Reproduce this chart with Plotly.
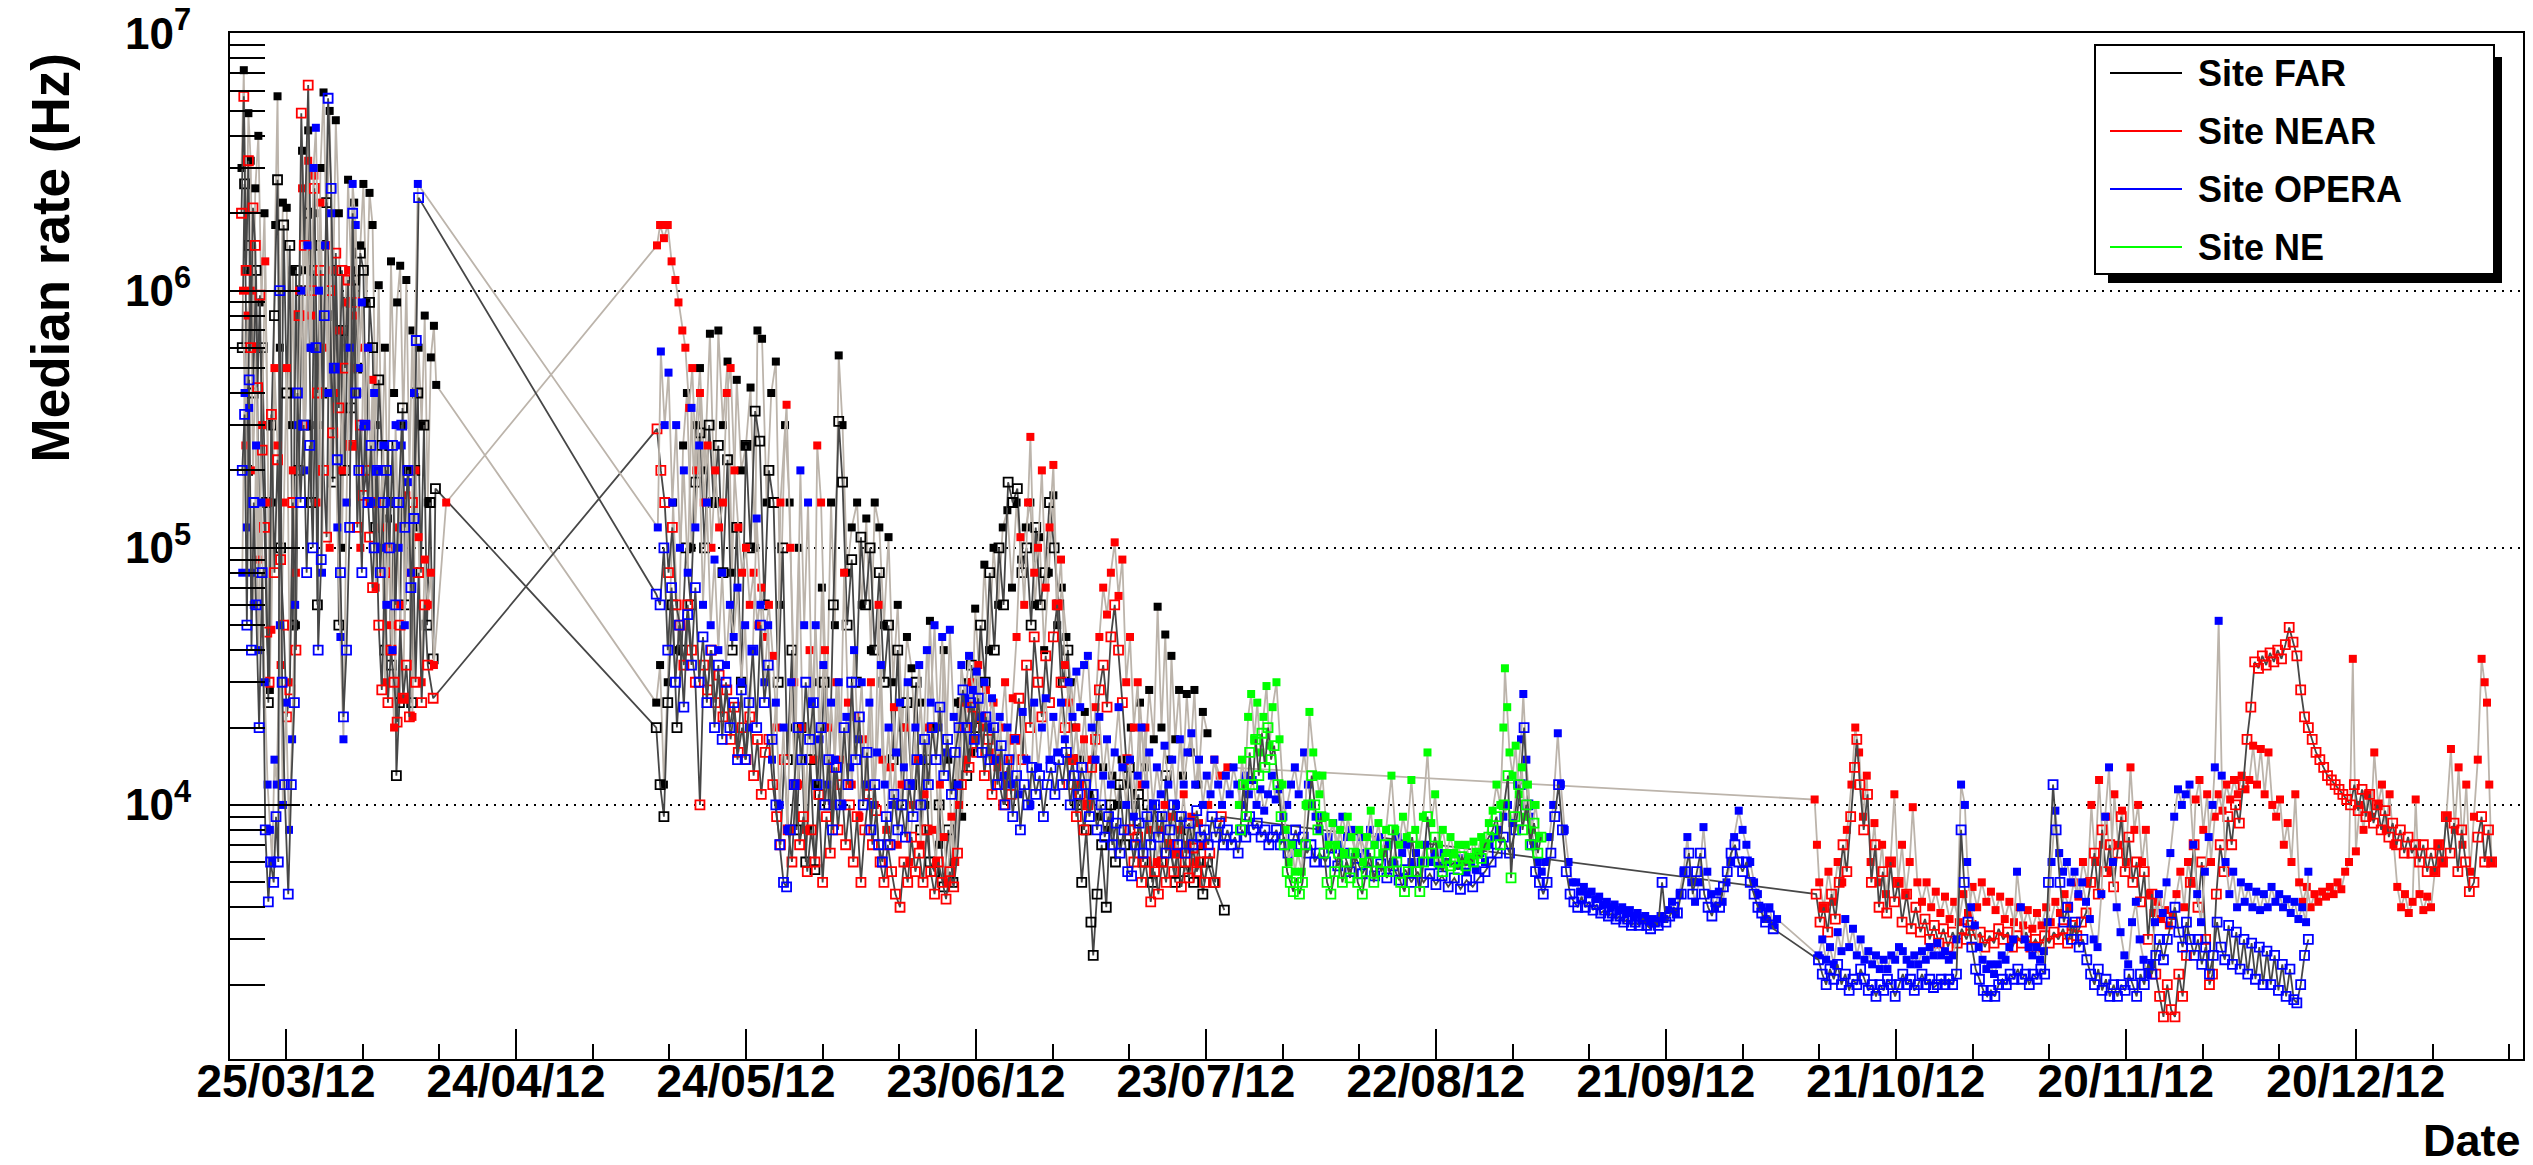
import pandas as pd
import plotly.graph_objects as go

# ---------------------------------------------------------------------------
# Data: (days after 25/03/12, median rate in Hz)
# ---------------------------------------------------------------------------
ORIGIN = "2012-03-25"

FAR_FILLED = [
    (-5.8, 3.0e6), (-5.5, 7.2e6), (-5.2, 1.2e6), (-4.9, 4.9e6), (-4.6, 3.2e6), (-4.3, 6.0e5), (-4.0, 2.5e6),
    (-3.6, 4.0e6), (-3.2, 9.0e5), (-2.8, 2.0e6), (-2.4, 3.0e5), (-2.1, 2.8e4), (-1.8, 1.5e5), (-1.4, 1.8e6),
    (-1.1, 5.7e6), (-0.8, 6.0e5), (-0.4, 2.2e6), (0.1, 2.1e6), (0.5, 3.0e5), (0.9, 1.2e6), (1.3, 5.0e4),
    (1.7, 8.0e5), (2.1, 3.5e6), (2.5, 1.2e6), (2.9, 4.2e6), (3.3, 6.0e5), (3.7, 2.0e6), (4.1, 3.0e5),
    (4.5, 3.0e6), (4.9, 5.9e6), (5.3, 1.5e6), (5.7, 5.0e6), (6.1, 8.0e5), (6.5, 4.6e6), (6.9, 2.0e6),
    (7.3, 1.0e5), (7.7, 6.0e5), (8.1, 2.7e6), (8.5, 1.2e6), (8.9, 2.2e6), (9.3, 4.0e5), (9.7, 1.5e6),
    (10.1, 2.6e6), (10.5, 9.0e5), (10.9, 2.4e6), (11.3, 1.8e6), (11.7, 3.0e5), (12.1, 1.05e6), (12.5, 2.0e5),
    (12.9, 6.0e5), (13.3, 1.3e5), (13.7, 1.3e6), (14.1, 4.0e5), (14.5, 9.0e5), (14.9, 1.25e6), (15.3, 3.0e5),
    (15.7, 1.1e6), (16.1, 2.0e5), (16.5, 7.0e5), (16.9, 1.2e5), (17.3, 6.0e5), (17.7, 3.0e5), (18.1, 8.0e5),
    (18.5, 1.5e5), (18.9, 5.5e5), (19.3, 7.3e5), (19.6, 4.3e5),
    (48.3, 2.5e4), (48.8, 3.5e4), (49.3, 1.2e4), (49.8, 3.0e4), (50.5, 1.5e5), (51.2, 4.0e4), (51.8, 2.5e5),
    (52.3, 4.0e5), (52.9, 1.0e5), (53.5, 3.0e5), (54.0, 5.0e5), (54.6, 2.0e5), (55.3, 6.8e5), (55.9, 1.5e5),
    (56.4, 7.0e5), (57.0, 3.0e5), (57.6, 5.3e5), (58.2, 8.0e4), (58.8, 4.5e5), (59.4, 2.0e5), (60.0, 2.5e5),
    (60.6, 4.2e5), (61.2, 1.0e5), (61.5, 7.0e5), (62.1, 6.5e5), (62.7, 1.5e5), (63.3, 4.0e5), (63.9, 5.3e5),
    (64.5, 6.0e4), (65.1, 3.0e5), (65.7, 1.5e5), (66.3, 2.0e4), (66.9, 1.0e5), (67.5, 1.5e4), (68.1, 8.0e3),
    (68.7, 3.0e4), (69.3, 1.2e4), (69.9, 7.0e4), (70.5, 2.0e4), (71.1, 1.5e5), (71.6, 5.0e4), (72.1, 5.6e5),
    (72.6, 3.0e5), (73.2, 8.0e4), (73.8, 1.2e5), (74.5, 1.5e5), (75.1, 6.0e4), (75.7, 1.3e5), (76.3, 4.0e4),
    (76.8, 1.5e5), (77.4, 1.2e5), (78.0, 5.0e4), (78.6, 1.1e5), (79.2, 3.0e4), (79.8, 6.0e4), (80.4, 2.0e4),
    (81.0, 4.5e4), (81.6, 3.4e4), (82.2, 1.5e4), (82.8, 2.5e4), (83.4, 1.0e4), (84.0, 5.2e4), (84.6, 2.0e4),
    (85.2, 7.0e3), (85.8, 4.0e4), (86.4, 1.5e4), (87.0, 6.0e3), (87.6, 2.5e4), (88.2, 9.0e3), (88.8, 3.0e4),
    (89.4, 1.6e4), (89.9, 5.8e4), (90.5, 3.0e4), (91.1, 8.6e4), (91.7, 4.0e4), (92.3, 1.0e5), (92.9, 6.0e4),
    (93.5, 1.2e5), (94.1, 1.4e5), (94.7, 7.0e4), (95.3, 1.5e5), (95.9, 9.0e4), (96.5, 1.2e5), (97.1, 1.5e5),
    (97.7, 6.0e4), (98.3, 1.1e5), (98.9, 4.0e4), (99.5, 8.0e4), (100.1, 1.6e5), (100.6, 5.0e4), (101.2, 7.0e4),
    (101.8, 4.5e4), (102.4, 3.0e4), (103.0, 2.0e4), (103.6, 1.5e4), (104.2, 2.3e4), (104.8, 1.1e4), (105.4, 1.5e4),
    (106.0, 9.0e3), (106.6, 1.4e4), (107.2, 8.0e3), (107.8, 1.3e4), (108.4, 1.0e4), (109.0, 1.5e4), (109.6, 1.2e4),
    (110.2, 2.0e4), (110.8, 1.0e4), (111.4, 2.5e4), (112.0, 1.4e4), (112.6, 2.8e4), (113.2, 1.8e4), (113.7, 5.9e4),
    (114.2, 2.0e4), (114.7, 4.6e4), (115.2, 1.5e4), (115.5, 3.8e4), (116.0, 1.8e4), (116.5, 2.8e4), (117.0, 1.3e4),
    (117.5, 2.7e4), (118.0, 1.6e4), (118.5, 2.8e4), (119.0, 1.2e4), (119.6, 2.3e4), (120.2, 1.9e4),
]

FAR_OPEN = [
    (-5.7, 6.0e5), (-5.4, 2.6e6), (-5.0, 2.0e5), (-4.7, 1.5e6), (-4.3, 4.0e5), (-3.9, 1.2e6), (-3.5, 8.0e4),
    (-3.1, 6.0e5), (-2.7, 1.5e5), (-2.3, 2.5e4), (-1.9, 3.0e5), (-1.5, 8.0e5), (-1.1, 2.7e6), (-0.7, 1.0e5),
    (-0.3, 1.8e6), (0.1, 4.0e5), (0.5, 1.5e6), (0.9, 5.0e4), (1.3, 1.2e6), (1.7, 2.0e5), (2.1, 1.0e6),
    (2.5, 3.0e5), (2.9, 2.0e6), (3.3, 1.5e5), (3.7, 1.2e6), (4.1, 6.0e4), (4.5, 1.5e6), (4.9, 4.0e5),
    (5.3, 2.2e6), (5.7, 8.0e5), (6.1, 1.8e5), (6.5, 1.2e6), (6.9, 5.0e4), (7.3, 7.0e5), (7.7, 2.0e5),
    (8.1, 9.0e5), (8.5, 3.5e5), (8.9, 1.1e6), (9.3, 5.0e5), (9.7, 1.4e6), (10.1, 1.2e6), (10.5, 2.0e5),
    (10.9, 9.0e5), (11.3, 6.0e5), (11.7, 1.2e5), (12.1, 4.5e5), (12.5, 2.5e5), (12.9, 4.0e4), (13.3, 2.5e5),
    (13.7, 3.5e4), (14.1, 1.5e5), (14.4, 1.3e4), (14.8, 2.5e4), (15.2, 3.5e5), (15.6, 6.0e4), (16.0, 2.0e5),
    (16.4, 2.5e4), (16.8, 2.0e5), (17.2, 4.0e5), (17.6, 8.0e4), (18.0, 3.0e5), (18.4, 5.0e4), (18.8, 1.5e5),
    (19.2, 3.7e4), (19.5, 1.7e5),
    (48.3, 2.0e4), (48.8, 1.2e4), (49.3, 9.0e3), (49.8, 2.5e4), (50.4, 6.0e4), (51.0, 2.0e4), (51.6, 4.0e4),
    (52.2, 1.0e5), (52.8, 6.0e4), (53.4, 1.8e5), (54.0, 2.8e5), (54.6, 1.0e5), (55.2, 3.0e5), (55.8, 1.5e5),
    (56.4, 2.5e5), (57.0, 8.0e4), (57.6, 2.2e5), (58.2, 4.0e4), (58.8, 1.2e5), (59.4, 3.0e4), (60.0, 2.5e5),
    (60.6, 1.0e5), (61.2, 3.4e5), (61.8, 2.6e5), (62.4, 6.0e4), (63.0, 2.0e5), (63.6, 1.5e5), (64.2, 3.0e4),
    (64.8, 1.0e5), (65.4, 1.5e4), (66.0, 4.0e4), (66.6, 8.0e3), (67.2, 2.0e4), (67.8, 6.0e3), (68.4, 1.5e4),
    (69.0, 5.6e3), (69.6, 1.1e4), (70.2, 3.0e4), (70.8, 1.0e4), (71.4, 6.0e4), (72.1, 3.1e5), (72.6, 1.8e5),
    (73.2, 5.0e4), (73.8, 9.0e4), (74.4, 3.0e4), (75.0, 1.1e5), (75.6, 6.0e4), (76.2, 1.0e5), (76.8, 4.0e4),
    (77.4, 8.0e4), (78.0, 3.0e4), (78.6, 5.0e4), (79.2, 1.5e4), (79.8, 4.0e4), (80.4, 1.0e4), (81.0, 2.5e4),
    (81.6, 1.2e4), (82.2, 3.0e4), (82.8, 8.0e3), (83.4, 1.5e4), (84.0, 6.0e3), (84.6, 5.5e3), (85.2, 1.0e4),
    (85.8, 4.8e3), (86.4, 8.0e3), (87.0, 5.0e3), (87.6, 1.2e4), (88.2, 2.5e4), (88.8, 1.3e4), (89.4, 3.5e4),
    (90.0, 2.0e4), (90.6, 5.0e4), (91.2, 3.0e4), (91.8, 8.0e4), (92.4, 4.0e4), (93.0, 1.0e5), (93.6, 6.0e4),
    (94.2, 1.8e5), (94.8, 1.5e5), (95.4, 1.7e5), (96.0, 8.0e4), (96.6, 1.0e5), (97.2, 5.0e4), (97.8, 1.2e5),
    (98.4, 6.0e4), (99.0, 8.0e4), (99.6, 1.5e5), (100.2, 1.0e5), (100.8, 6.0e4), (101.4, 3.0e4), (102.0, 4.0e4),
    (102.6, 1.5e4), (103.2, 1.0e4), (103.8, 5.0e3), (104.4, 8.0e3), (105.0, 3.5e3), (105.3, 2.6e3), (105.8, 4.5e3),
    (106.4, 7.0e3), (107.0, 4.0e3), (107.6, 1.0e4), (108.2, 6.0e3), (108.8, 1.2e4), (109.4, 7.0e3), (110.0, 1.4e4),
    (110.6, 8.0e3), (111.2, 1.1e4), (111.8, 6.0e3), (112.4, 1.0e4), (113.0, 5.0e3), (113.6, 9.0e3), (114.2, 6.0e3),
    (114.8, 1.3e4), (115.4, 7.0e3), (116.0, 5.0e3), (116.6, 9.0e3), (117.2, 5.5e3), (117.8, 8.0e3), (118.4, 5.0e3),
    (119.0, 7.0e3), (119.6, 4.5e3), (120.2, 6.0e3), (121.0, 5.0e3), (122.4, 3.9e3),
]

NEAR_FILLED = [
    (-5.6, 1.0e6), (-5.3, 2.5e5), (-5.0, 8.0e5), (-4.6, 1.0e6), (-4.3, 2.0e5), (-3.9, 6.0e5), (-3.5, 9.0e4),
    (-3.1, 3.0e5), (-2.7, 1.3e6), (-2.3, 1.5e5), (-1.9, 4.8e4), (-1.5, 5.0e5), (-1.1, 2.5e5), (-0.7, 3.5e4),
    (-0.3, 1.5e5), (0.1, 5.0e5), (0.5, 3.0e4), (0.9, 2.0e5), (1.3, 8.0e4), (1.7, 1.0e6), (2.1, 2.5e6),
    (2.5, 3.0e5), (2.9, 3.2e6), (3.3, 8.0e5), (3.7, 2.8e6), (4.1, 1.5e5), (4.5, 2.2e6), (4.9, 6.0e5),
    (5.3, 1.5e6), (5.7, 1.0e5), (6.1, 1.2e6), (6.5, 4.0e5), (6.9, 7.0e5), (7.3, 2.0e5), (7.7, 9.0e5),
    (8.1, 1.2e6), (8.5, 2.5e5), (8.9, 8.0e5), (9.3, 5.0e5), (9.7, 1.0e5), (10.1, 6.0e5), (10.5, 3.0e5),
    (10.9, 1.5e5), (11.3, 4.5e5), (11.7, 7.0e4), (12.1, 2.0e5), (12.5, 1.2e5), (12.9, 3.0e4), (13.3, 1.0e5),
    (13.7, 5.0e4), (14.1, 2.0e4), (14.5, 1.2e5), (14.9, 6.0e4), (15.3, 2.6e4), (15.7, 1.6e5), (16.1, 8.0e4),
    (16.5, 2.2e4), (16.9, 2.0e5), (17.3, 1.1e5), (17.7, 3.0e4), (18.1, 9.0e4), (18.5, 6.0e4), (18.9, 8.0e4),
    (19.3, 3.5e4), (20.9, 1.5e5),
    (48.4, 1.5e6), (48.8, 1.8e6), (49.3, 1.6e6), (49.8, 1.8e6), (50.3, 1.3e6), (50.8, 1.1e6), (51.2, 9.0e5),
    (51.7, 7.0e5), (52.1, 6.0e5), (52.6, 3.5e5), (53.0, 5.0e5), (53.5, 2.0e5), (54.0, 4.0e5), (54.5, 1.5e5),
    (55.0, 2.5e5), (55.5, 1.0e5), (56.0, 2.0e5), (56.5, 1.2e5), (57.0, 1.5e5), (57.5, 4.0e5), (58.0, 5.0e5),
    (58.5, 2.0e5), (59.0, 1.2e5), (59.5, 8.0e4), (60.0, 1.0e5), (60.5, 6.0e4), (61.0, 8.0e4), (61.5, 5.0e4),
    (62.0, 7.0e4), (62.5, 4.5e4), (63.0, 6.0e4), (63.5, 3.8e4), (64.0, 2.0e4), (64.5, 1.5e5), (65.3, 3.6e5),
    (65.8, 1.0e5), (66.3, 3.0e4), (66.8, 1.2e4), (67.3, 2.0e4), (67.8, 8.0e3), (68.3, 4.0e4), (68.8, 1.5e4),
    (69.3, 2.5e5), (69.8, 1.5e5), (70.3, 4.0e4), (70.8, 2.0e4), (71.3, 1.0e4), (71.8, 3.0e4), (72.3, 1.5e4),
    (72.8, 8.0e4), (73.3, 2.5e4), (73.8, 1.2e4), (74.3, 2.2e4), (74.8, 9.0e3), (75.3, 1.8e4), (75.8, 1.2e4),
    (76.3, 3.0e4), (76.8, 1.0e4), (77.3, 6.0e4), (77.8, 1.5e4), (78.3, 8.0e3), (78.8, 1.4e4), (79.3, 2.4e4),
    (79.8, 7.0e3), (80.3, 1.2e4), (80.8, 2.0e4), (81.3, 6.0e3), (81.8, 1.0e4), (82.3, 1.5e4), (82.8, 7.0e3),
    (83.3, 1.1e4), (83.8, 2.0e4), (84.3, 8.0e3), (84.8, 6.0e3), (85.3, 1.2e4), (85.8, 7.5e3), (86.3, 5.0e3),
    (86.8, 9.0e3), (87.3, 6.0e3), (87.8, 1.0e4), (88.3, 2.5e4), (88.8, 1.5e4), (89.3, 3.0e4), (89.8, 1.8e4),
    (90.3, 3.5e4), (90.8, 2.0e4), (91.3, 2.8e4), (91.8, 1.6e4), (92.3, 2.5e4), (92.8, 1.4e4), (93.3, 2.0e4),
    (93.8, 3.0e4), (94.3, 1.5e4), (94.8, 2.6e4), (95.3, 4.5e4), (95.8, 1.1e5), (96.3, 6.0e4), (96.8, 1.5e5),
    (97.1, 2.7e5), (97.6, 8.0e4), (98.1, 1.0e5), (98.6, 2.0e5), (99.1, 7.0e4), (99.6, 1.2e5), (100.1, 2.1e5),
    (100.6, 6.0e4), (101.1, 9.0e4), (101.6, 3.5e4), (102.1, 2.5e4), (102.6, 1.5e4), (103.1, 2.0e4), (103.6, 1.2e4),
    (104.1, 1.8e4), (104.6, 1.0e4), (105.1, 1.5e4), (105.6, 2.4e4), (106.1, 4.5e4), (106.6, 7.0e4), (107.1, 5.5e4),
    (107.6, 8.0e4), (108.1, 1.05e5), (108.6, 6.5e4), (109.1, 9.0e4), (109.6, 3.0e4), (110.1, 4.5e4), (110.6, 2.0e4),
    (111.1, 3.0e4), (111.6, 1.2e4), (112.1, 2.0e4), (112.6, 8.0e3), (113.1, 1.0e4), (113.6, 6.0e3), (114.1, 8.0e3),
    (114.6, 1.0e4), (115.1, 7.0e3), (115.6, 9.0e3), (116.1, 6.5e3), (116.6, 8.0e3), (117.1, 1.1e4), (117.6, 7.0e3),
    (118.1, 9.0e3), (118.6, 6.0e3), (119.1, 8.5e3), (119.6, 7.0e3), (120.3, 1.0e4), (121.1, 1.5e4), (121.8, 1.3e4),
    (122.8, 1.4e4),
    (199.4, 1.05e4), (199.7, 7.0e3), (200.0, 5.0e3), (200.6, 4.0e3), (201.2, 5.5e3), (201.8, 4.2e3), (202.4, 6.0e3),
    (203.0, 5.0e3), (203.6, 8.0e3), (204.2, 1.2e4), (204.7, 2.0e4), (205.2, 1.6e4), (205.7, 9.0e3), (206.2, 1.3e4),
    (206.7, 6.0e3), (207.2, 8.5e3), (207.7, 5.0e3), (208.2, 7.0e3), (208.7, 4.5e3), (209.3, 6.0e3), (209.8, 1.1e4),
    (210.3, 5.0e3), (210.8, 7.0e3), (211.3, 4.5e3), (211.8, 6.0e3), (212.2, 9.8e3), (212.8, 5.0e3), (213.4, 4.2e3),
    (214.0, 5.0e3), (214.6, 4.0e3), (215.2, 4.6e3), (215.8, 3.8e3), (216.4, 4.4e3), (217.0, 3.6e3), (217.6, 4.2e3),
    (218.2, 3.5e3), (218.8, 4.5e3), (219.4, 3.8e3), (220.0, 4.8e3), (220.6, 4.0e3), (221.2, 5.0e3), (221.8, 4.2e3),
    (222.4, 4.6e3), (223.0, 3.9e3), (223.6, 4.4e3), (224.2, 3.6e3), (224.8, 4.2e3), (225.4, 3.5e3), (226.0, 4.0e3),
    (226.6, 3.4e3), (227.2, 3.9e3), (227.8, 3.3e3), (228.4, 3.8e3), (229.0, 3.4e3), (229.6, 4.0e3), (230.2, 3.5e3),
    (230.8, 4.2e3), (231.4, 3.8e3), (232.0, 4.5e3), (232.6, 4.0e3), (233.2, 5.0e3), (233.8, 4.4e3), (234.4, 6.0e3),
    (235.0, 5.0e3), (235.5, 1.0e4), (236.0, 6.0e3), (236.5, 1.25e4), (237.0, 7.0e3), (237.5, 9.0e3), (238.0, 5.5e3),
    (238.5, 1.1e4), (239.0, 7.0e3), (239.5, 9.5e3), (240.0, 6.0e3), (240.6, 1.4e4), (241.1, 8.0e3), (241.6, 1.0e4),
    (242.1, 6.0e3), (242.6, 8.0e3), (243.1, 4.5e3), (243.6, 3.8e3), (244.1, 4.2e3), (244.6, 3.6e3), (245.1, 3.9e3),
    (245.6, 3.4e3), (246.1, 3.7e3), (246.6, 4.5e3), (247.1, 5.5e3), (247.6, 4.0e3), (248.1, 6.0e3), (248.6, 5.0e3),
    (249.1, 1.05e4), (249.6, 1.25e4), (250.1, 8.0e3), (250.6, 1.1e4), (251.1, 6.0e3), (251.6, 9.0e3), (252.1, 1.1e4),
    (252.6, 9.5e3), (253.1, 1.2e4), (253.6, 1.05e4), (254.1, 1.25e4), (254.6, 1.1e4), (255.1, 1.3e4), (255.6, 1.15e4),
    (256.1, 1.25e4), (256.6, 1.7e4), (257.1, 1.2e4), (257.6, 1.65e4), (258.1, 1.1e4), (258.6, 1.6e4), (259.1, 1.0e4),
    (259.6, 9.0e3), (260.1, 1.05e4), (260.6, 7.0e3), (261.1, 8.5e3), (261.6, 6.0e3), (262.1, 1.1e4), (262.6, 5.0e3),
    (263.1, 4.2e3), (263.6, 4.8e3), (264.1, 4.0e3), (264.6, 4.5e3), (265.1, 4.2e3), (265.6, 4.6e3), (266.1, 4.4e3),
    (266.6, 4.8e3), (267.1, 4.5e3), (267.6, 5.0e3), (268.1, 4.7e3), (268.6, 5.5e3), (269.1, 6.0e3), (269.6, 3.7e4),
    (270.0, 6.6e3), (270.5, 1.0e4), (271.0, 8.0e3), (271.5, 1.1e4), (272.0, 9.0e3), (272.4, 1.6e4), (272.9, 1.0e4),
    (273.4, 1.2e4), (273.9, 8.0e3), (274.4, 1.1e4), (274.9, 7.0e3), (275.4, 4.8e3), (275.9, 4.0e3), (276.4, 4.5e3),
    (276.9, 3.8e3), (277.4, 4.2e3), (277.8, 1.05e4), (278.3, 4.5e3), (278.8, 3.9e3), (279.3, 4.4e3), (279.8, 4.0e3),
    (280.3, 5.5e3), (280.8, 7.0e3), (281.3, 6.0e3), (281.8, 9.0e3), (282.4, 1.65e4), (282.9, 8.0e3), (283.4, 1.4e4),
    (283.9, 7.0e3), (284.4, 1.2e4), (284.9, 5.5e3), (285.4, 9.0e3), (285.9, 1.5e4), (286.4, 3.7e4), (286.8, 3.0e4),
    (287.1, 2.5e4), (287.4, 1.2e4), (287.7, 6.0e3),
]

NEAR_OPEN = [
    (-5.8, 2.0e6), (-5.5, 5.7e6), (-5.2, 1.2e6), (-4.9, 3.2e6), (-4.6, 6.0e5), (-4.3, 2.1e6), (-4.0, 1.5e6),
    (-3.7, 4.2e5), (-3.4, 9.6e5), (-3.1, 2.4e5), (-2.8, 1.2e5), (-2.5, 4.7e4), (-2.2, 3.0e4), (-1.9, 3.3e5),
    (-1.5, 8.0e4), (-1.1, 2.2e5), (-0.7, 9.0e4), (-0.3, 5.0e4), (0.1, 2.2e4), (0.5, 2.8e4), (0.9, 1.5e5),
    (1.3, 4.0e4), (1.7, 8.0e5), (2.0, 4.9e6), (2.4, 1.5e6), (2.9, 6.3e6), (3.3, 1.0e6), (3.7, 2.5e6),
    (4.1, 4.0e5), (4.5, 1.2e6), (4.9, 2.0e5), (5.3, 1.1e5), (5.7, 1.0e6), (6.1, 2.8e5), (6.5, 1.4e6),
    (6.9, 3.5e5), (7.3, 1.2e6), (7.7, 5.0e5), (8.1, 1.1e6), (8.5, 2.5e5), (8.9, 9.0e5), (9.3, 1.2e5),
    (9.7, 3.0e5), (10.1, 1.6e5), (10.5, 2.0e5), (10.9, 1.1e5), (11.3, 7.0e4), (11.7, 1.5e5), (12.1, 5.0e4),
    (12.5, 2.8e4), (12.9, 8.0e4), (13.3, 2.5e4), (13.7, 4.0e4), (14.1, 3.0e4), (14.5, 2.1e4), (14.9, 5.0e4),
    (15.3, 2.6e4), (15.7, 3.5e4), (16.1, 2.2e4), (16.5, 1.5e5), (16.9, 3.0e4), (17.3, 8.0e4), (17.7, 2.5e4),
    (18.1, 6.0e4), (18.5, 3.5e4), (19.2, 2.6e4),
    (48.4, 2.9e5), (48.9, 2.0e5), (49.4, 1.5e5), (49.9, 8.0e4), (50.4, 1.2e5), (50.9, 6.0e4), (51.4, 5.0e4),
    (51.9, 3.5e4), (52.4, 6.0e4), (52.9, 4.0e4), (53.4, 3.0e4), (54.0, 1.0e4), (54.5, 3.5e4), (55.0, 2.8e4),
    (55.5, 4.0e4), (56.0, 2.5e4), (56.5, 3.2e4), (57.0, 2.2e4), (57.5, 2.8e4), (58.0, 1.8e4), (58.5, 2.4e4),
    (59.0, 1.6e4), (59.5, 2.0e4), (60.0, 1.5e4), (60.5, 2.2e4), (61.0, 1.3e4), (61.5, 1.8e4), (62.0, 1.1e4),
    (62.5, 1.6e4), (63.0, 1.8e4), (63.5, 1.2e4), (64.0, 9.0e3), (64.5, 7.0e3), (65.0, 1.5e4), (65.5, 8.0e3),
    (66.0, 6.0e3), (66.5, 1.2e4), (67.0, 7.0e3), (67.5, 9.0e3), (68.0, 5.5e3), (68.5, 8.0e3), (69.0, 6.0e3),
    (69.5, 1.1e4), (70.0, 5.0e3), (70.5, 9.0e3), (71.0, 6.5e3), (71.5, 1.4e4), (72.0, 8.0e3), (72.5, 1.2e4),
    (73.0, 7.0e3), (73.5, 1.0e4), (74.0, 6.0e3), (74.5, 9.0e3), (75.0, 5.0e3), (75.5, 8.0e3), (76.0, 1.1e4),
    (76.5, 7.0e3), (77.0, 9.5e3), (77.5, 6.0e3), (78.0, 5.0e3), (78.5, 7.0e3), (79.0, 5.5e3), (79.5, 4.5e3),
    (80.1, 4.0e3), (80.6, 6.0e3), (81.1, 5.0e3), (81.6, 7.5e3), (82.1, 5.5e3), (82.6, 6.5e3), (83.1, 5.0e3),
    (83.6, 8.0e3), (84.1, 5.5e3), (84.6, 4.5e3), (85.1, 6.0e3), (85.6, 5.0e3), (86.1, 4.3e3), (86.6, 5.5e3),
    (87.1, 4.8e3), (87.6, 6.5e3), (88.1, 1.2e4), (88.6, 2.0e4), (89.1, 1.4e4), (89.6, 2.4e4), (90.1, 1.6e4),
    (90.6, 2.2e4), (91.1, 1.3e4), (91.6, 1.8e4), (92.1, 1.1e4), (92.6, 1.5e4), (93.1, 1.2e4), (93.6, 1.0e4),
    (94.1, 1.4e4), (94.6, 1.1e4), (95.1, 1.8e4), (95.6, 2.6e4), (96.1, 1.5e4), (96.6, 3.5e4), (97.1, 2.0e4),
    (97.6, 4.5e4), (98.1, 3.0e4), (98.6, 2.2e4), (99.1, 3.8e4), (99.6, 2.5e4), (100.1, 4.5e4), (100.6, 6.0e4),
    (101.1, 3.0e4), (101.6, 2.0e4), (102.1, 1.2e4), (102.6, 1.5e4), (103.1, 9.0e3), (103.6, 1.1e4), (104.1, 8.0e3),
    (104.6, 1.0e4), (105.1, 1.4e4), (105.6, 1.8e4), (106.1, 2.8e4), (106.6, 3.5e4), (107.1, 2.4e4), (107.6, 4.5e4),
    (108.1, 6.0e4), (108.6, 4.0e4), (109.1, 2.5e4), (109.6, 1.5e4), (110.1, 8.0e3), (110.6, 6.0e3), (111.1, 7.5e3),
    (111.6, 5.0e3), (112.1, 6.0e3), (112.8, 4.2e3), (113.3, 5.5e3), (113.8, 4.5e3), (114.3, 6.0e3), (114.8, 5.0e3),
    (115.3, 7.0e3), (115.8, 5.5e3), (116.3, 6.5e3), (116.8, 4.8e3), (117.3, 6.0e3), (117.8, 5.2e3), (118.3, 6.8e3),
    (118.8, 5.5e3), (119.3, 6.0e3), (119.8, 5.0e3), (120.5, 6.5e3), (121.2, 5.0e3), (122.0, 9.0e3),
    (199.6, 4.5e3), (200.1, 3.5e3), (200.6, 4.0e3), (201.1, 3.2e3), (201.6, 4.5e3), (202.1, 3.6e3), (202.6, 5.0e3),
    (203.1, 7.0e3), (203.6, 5.5e3), (204.1, 9.0e3), (204.6, 1.4e4), (204.9, 1.8e4), (205.3, 1.2e4), (205.8, 8.0e3),
    (206.3, 1.1e4), (206.8, 5.0e3), (207.3, 7.0e3), (207.8, 4.0e3), (208.3, 5.5e3), (208.8, 3.8e3), (209.3, 6.0e3),
    (209.8, 4.2e3), (210.3, 5.0e3), (210.8, 3.5e3), (211.4, 4.5e3), (212.0, 3.3e3), (212.6, 4.0e3), (213.2, 3.2e3),
    (213.8, 3.6e3), (214.4, 3.0e3), (215.0, 3.4e3), (215.6, 2.9e3), (216.2, 3.3e3), (216.8, 2.8e3), (217.4, 3.2e3),
    (218.0, 2.9e3), (218.6, 3.3e3), (219.2, 3.0e3), (219.8, 3.4e3), (220.4, 3.0e3), (221.0, 3.2e3), (221.6, 2.8e3),
    (222.2, 3.1e3), (222.8, 2.9e3), (223.4, 3.3e3), (224.0, 3.0e3), (224.6, 3.2e3), (225.2, 2.8e3), (225.8, 3.1e3),
    (226.4, 2.9e3), (227.0, 3.2e3), (227.6, 2.8e3), (228.2, 3.0e3), (228.8, 2.8e3), (229.4, 3.1e3), (230.0, 2.9e3),
    (230.6, 3.2e3), (231.2, 3.0e3), (231.8, 3.3e3), (232.4, 2.9e3), (233.0, 3.4e3), (233.6, 3.1e3), (234.2, 3.5e3),
    (234.8, 3.8e3), (235.4, 5.0e3), (235.9, 6.5e3), (236.4, 4.5e3), (236.9, 8.0e3), (237.4, 5.5e3), (237.9, 7.0e3),
    (238.4, 4.8e3), (238.9, 6.5e3), (239.4, 9.0e3), (239.9, 5.5e3), (240.4, 7.5e3), (240.9, 5.0e3), (241.4, 6.0e3),
    (241.9, 4.2e3), (242.4, 5.5e3), (242.9, 3.0e3), (243.4, 4.5e3), (243.9, 2.2e3), (244.4, 1.8e3), (244.9, 1.5e3),
    (245.4, 2.0e3), (245.9, 1.6e3), (246.4, 1.5e3), (246.9, 2.2e3), (247.4, 1.8e3), (247.9, 2.6e3), (248.4, 5.0e3),
    (248.9, 7.0e3), (249.4, 4.0e3), (249.9, 6.0e3), (250.4, 3.0e3), (250.9, 2.0e3), (251.3, 2.2e3), (251.8, 4.5e3),
    (252.3, 7.0e3), (252.8, 5.5e3), (253.3, 9.0e3), (253.8, 7.0e3), (254.3, 1.0e4), (254.8, 8.5e3), (255.3, 1.2e4),
    (255.8, 1.8e4), (256.3, 2.4e4), (256.8, 3.6e4), (257.3, 3.4e4), (257.8, 3.8e4), (258.3, 3.5e4), (258.8, 3.9e4),
    (259.3, 3.6e4), (259.8, 4.0e4), (260.3, 3.7e4), (260.8, 4.2e4), (261.3, 4.9e4), (261.8, 4.3e4), (262.3, 3.8e4),
    (262.8, 2.8e4), (263.3, 2.2e4), (263.8, 2.0e4), (264.3, 1.8e4), (264.8, 1.6e4), (265.3, 1.5e4), (265.8, 1.4e4),
    (266.3, 1.3e4), (266.8, 1.25e4), (267.3, 1.2e4), (267.8, 1.15e4), (268.3, 1.1e4), (268.8, 1.05e4), (269.3, 1.0e4),
    (269.8, 1.2e4), (270.3, 9.5e3), (270.8, 1.15e4), (271.3, 9.0e3), (271.8, 1.1e4), (272.3, 8.5e3), (272.8, 1.0e4),
    (273.3, 8.0e3), (273.8, 9.5e3), (274.3, 7.5e3), (274.8, 8.5e3), (275.3, 7.0e3), (275.8, 8.0e3), (276.3, 6.5e3),
    (276.8, 7.5e3), (277.3, 6.5e3), (277.8, 7.0e3), (278.3, 6.0e3), (278.8, 7.0e3), (279.3, 5.5e3), (279.8, 6.5e3),
    (280.3, 5.5e3), (280.8, 7.0e3), (281.3, 6.0e3), (281.8, 9.0e3), (282.3, 6.5e3), (282.8, 8.5e3), (283.3, 5.5e3),
    (283.8, 8.0e3), (284.3, 6.0e3), (284.8, 4.6e3), (285.4, 5.0e3), (285.9, 7.5e3), (286.4, 9.0e3), (286.8, 6.0e3),
    (287.3, 8.0e3), (287.7, 6.0e3),
]

OPERA_FILLED = [
    (-5.7, 8.0e4), (-5.4, 4.0e5), (-5.1, 1.2e5), (-4.8, 3.5e5), (-4.5, 8.0e4), (-4.2, 6.0e4), (-3.9, 2.5e5),
    (-3.6, 4.0e4), (-3.2, 1.5e5), (-2.8, 3.0e4), (-2.4, 1.2e4), (-2.1, 8.0e3), (-1.8, 6.0e3), (-1.5, 1.5e4),
    (-1.2, 1.2e4), (-0.8, 5.0e4), (-0.4, 1.0e4), (0.0, 2.5e4), (0.4, 8.0e3), (0.8, 1.8e4), (1.2, 6.0e4),
    (1.6, 3.0e5), (2.0, 1.0e6), (2.4, 2.0e5), (2.8, 1.5e6), (3.2, 6.0e5), (3.6, 3.0e6), (3.9, 4.3e6),
    (4.3, 1.0e6), (4.7, 8.0e4), (5.1, 1.5e6), (5.5, 4.0e5), (5.9, 2.0e6), (6.3, 5.0e5), (6.7, 1.2e5),
    (7.1, 4.5e4), (7.5, 1.8e4), (7.9, 1.5e5), (8.3, 6.0e5), (8.7, 2.6e6), (9.1, 1.8e6), (9.5, 5.0e5),
    (9.9, 9.0e5), (10.3, 3.0e5), (10.7, 6.0e5), (11.1, 1.5e5), (11.5, 4.0e5), (11.9, 2.0e5), (12.3, 1.0e5),
    (12.7, 2.5e5), (13.1, 6.0e4), (13.5, 1.5e5), (13.9, 4.0e4), (14.3, 3.0e5), (14.7, 1.0e5), (15.1, 2.5e5),
    (15.5, 5.0e4), (15.9, 1.8e5), (16.3, 8.0e4), (16.7, 4.0e5), (17.2, 2.6e6),
    (48.5, 1.2e5), (48.9, 5.8e5), (49.4, 3.0e5), (49.9, 4.8e5), (50.4, 1.5e5), (50.9, 3.0e5), (51.4, 1.0e5),
    (51.9, 2.0e5), (52.4, 8.0e4), (52.9, 3.5e5), (53.4, 1.2e5), (53.9, 2.5e5), (54.4, 6.0e4), (54.9, 1.5e5),
    (55.4, 5.0e4), (55.9, 9.0e4), (56.4, 4.0e4), (56.9, 8.0e4), (57.4, 3.5e4), (57.9, 6.0e4), (58.4, 4.5e4),
    (58.9, 7.0e4), (59.4, 3.0e4), (59.9, 5.0e4), (60.4, 2.0e4), (60.9, 4.0e4), (61.4, 1.3e5), (61.9, 6.0e4),
    (62.4, 3.0e4), (62.9, 5.0e4), (63.4, 1.5e4), (63.9, 2.5e4), (64.4, 1.0e4), (64.9, 2.0e4), (65.4, 8.0e3),
    (65.9, 3.0e4), (66.4, 1.2e4), (67.1, 2.0e5), (67.6, 5.0e4), (68.1, 1.5e5), (68.6, 2.5e4), (69.1, 5.0e4),
    (69.6, 1.8e4), (70.1, 3.5e4), (70.6, 1.2e4), (71.1, 2.5e4), (71.6, 1.5e4), (72.1, 3.0e4), (72.6, 1.0e4),
    (73.1, 2.2e4), (73.6, 1.4e4), (74.1, 4.0e4), (74.6, 1.8e4), (75.1, 3.0e4), (75.6, 1.2e4), (76.1, 2.5e4),
    (76.6, 1.0e4), (77.1, 1.6e4), (77.6, 3.5e4), (78.1, 1.2e4), (78.6, 2.0e4), (79.1, 1.0e4), (79.6, 1.6e4),
    (80.1, 2.5e4), (80.6, 1.4e4), (81.1, 3.0e4), (81.6, 1.2e4), (82.1, 2.0e4), (82.6, 3.5e4), (83.1, 1.5e4),
    (83.6, 4.0e4), (84.1, 2.5e4), (84.6, 5.0e4), (85.1, 2.0e4), (85.6, 4.5e4), (86.1, 1.6e4), (86.6, 4.8e4),
    (87.1, 2.2e4), (87.6, 1.2e4), (88.1, 3.5e4), (88.6, 2.6e4), (89.1, 3.8e4), (89.6, 2.8e4), (90.1, 3.3e4),
    (90.6, 2.2e4), (91.1, 3.0e4), (91.6, 2.0e4), (92.1, 2.6e4), (92.6, 1.5e4), (93.1, 2.2e4), (93.6, 1.3e4),
    (94.1, 2.0e4), (94.6, 1.2e4), (95.1, 1.8e4), (95.6, 1.1e4), (96.1, 2.3e4), (96.6, 1.5e4), (97.1, 1.0e4),
    (97.6, 2.5e4), (98.1, 1.4e4), (98.6, 2.0e4), (99.1, 2.6e4), (99.6, 1.5e4), (100.1, 2.2e4), (100.6, 1.6e4),
    (101.1, 2.5e4), (101.6, 1.8e4), (102.1, 3.0e4), (102.6, 2.2e4), (103.1, 3.3e4), (103.6, 2.4e4), (104.1, 3.5e4),
    (104.6, 3.8e4), (105.1, 2.0e4), (105.6, 1.5e4), (106.1, 2.2e4), (106.6, 1.3e4), (107.1, 1.8e4), (107.6, 1.2e4),
    (108.1, 1.6e4), (108.6, 2.4e4), (109.1, 1.4e4), (109.6, 1.0e4), (110.1, 1.5e4), (110.6, 9.0e3), (111.1, 1.3e4),
    (111.6, 2.0e4), (112.1, 1.2e4), (112.6, 1.6e4), (113.1, 1.0e4), (113.6, 1.4e4), (114.1, 1.1e4), (114.6, 1.7e4),
    (115.1, 1.2e4), (115.6, 1.5e4), (116.1, 1.0e4), (116.6, 1.8e4), (117.1, 1.2e4), (117.6, 1.6e4), (118.1, 1.9e4),
    (118.6, 1.2e4), (119.1, 1.5e4), (119.6, 1.0e4), (120.1, 1.3e4), (120.6, 1.1e4), (121.1, 1.5e4), (121.6, 1.2e4),
    (122.1, 1.0e4), (122.6, 1.3e4), (123.1, 1.1e4), (123.6, 1.4e4), (124.1, 1.2e4), (124.6, 1.0e4), (125.1, 1.3e4),
    (125.6, 1.1e4), (126.1, 1.25e4), (126.6, 1.0e4), (127.1, 1.15e4), (127.6, 9.5e3), (128.1, 1.1e4), (128.6, 1.3e4),
    (129.1, 1.05e4), (129.6, 1.15e4), (130.1, 9.0e3), (130.6, 1.0e4), (131.1, 1.2e4), (131.6, 1.4e4), (132.1, 1.1e4),
    (132.8, 1.6e4), (133.3, 1.2e4), (133.8, 1.0e4), (134.3, 9.0e3),
    (134.8, 8.0e3), (135.4, 9.0e3), (136.0, 7.5e3), (136.6, 8.5e3), (137.2, 7.0e3), (137.8, 9.0e3), (138.4, 7.5e3),
    (139.0, 8.0e3), (139.6, 6.5e3), (140.2, 7.5e3), (140.8, 6.5e3), (141.4, 8.0e3), (142.0, 7.0e3), (142.6, 7.5e3),
    (143.2, 6.5e3), (143.8, 7.0e3), (144.4, 6.0e3), (145.0, 7.5e3), (145.6, 6.5e3), (146.2, 7.0e3), (146.8, 6.0e3),
    (147.4, 6.5e3), (148.0, 6.0e3), (148.6, 7.0e3), (149.2, 6.0e3), (149.8, 6.5e3), (150.4, 5.8e3), (151.0, 6.5e3),
    (151.6, 6.0e3), (152.2, 6.5e3), (152.8, 5.8e3), (153.4, 6.2e3), (154.0, 5.5e3), (154.6, 6.0e3), (155.2, 5.6e3),
    (155.8, 6.5e3), (156.4, 6.0e3), (157.0, 7.0e3), (157.6, 7.5e3), (158.2, 8.0e3), (158.8, 9.0e3), (159.4, 1.0e4),
    (160.0, 8.5e3), (160.6, 1.2e4), (161.1, 1.8e4), (161.4, 2.7e4), (161.8, 1.5e4), (162.3, 9.0e3), (162.8, 7.0e3),
    (163.3, 6.0e3), (163.8, 5.5e3), (164.3, 6.0e3), (164.8, 7.5e3), (165.3, 1.0e4), (165.9, 1.9e4), (166.3, 1.2e4),
    (166.8, 8.0e3), (167.3, 6.0e3), (167.8, 5.0e3), (168.3, 5.0e3), (168.8, 4.6e3), (169.3, 4.8e3), (169.8, 4.5e3),
    (170.3, 4.6e3), (170.8, 4.3e3), (171.3, 4.4e3), (171.8, 4.1e3), (172.3, 4.2e3), (172.8, 4.0e3), (173.3, 4.1e3),
    (173.8, 3.9e3), (174.3, 4.0e3), (174.8, 3.8e3), (175.3, 3.9e3), (175.8, 3.7e3), (176.3, 3.8e3), (176.8, 3.6e3),
    (177.3, 3.7e3), (177.8, 3.5e3), (178.3, 3.6e3), (178.8, 3.5e3), (179.3, 3.7e3), (179.8, 3.6e3), (180.3, 3.9e3),
    (180.8, 4.2e3), (181.3, 3.8e3), (181.8, 4.5e3), (182.3, 5.5e3), (182.8, 7.5e3), (183.3, 5.0e3), (183.8, 4.2e3),
    (184.3, 5.0e3), (184.9, 8.2e3), (185.4, 5.5e3), (185.9, 4.5e3), (186.4, 4.0e3), (186.9, 4.6e3), (187.4, 4.2e3),
    (187.9, 5.0e3), (188.4, 6.0e3), (188.9, 7.5e3), (189.5, 9.5e3), (190.0, 8.0e3), (190.5, 7.0e3), (191.0, 6.0e3),
    (191.5, 5.0e3), (192.0, 4.5e3), (192.5, 4.0e3), (193.0, 3.6e3), (193.5, 4.0e3), (194.0, 3.4e3), (194.5, 3.6e3),
    (199.9, 2.6e3), (200.4, 3.0e3), (200.9, 2.5e3), (201.4, 2.8e3), (201.9, 2.4e3), (202.4, 3.2e3), (202.9, 2.7e3),
    (203.4, 3.6e3), (203.9, 2.8e3), (204.4, 3.3e3), (204.9, 2.6e3), (205.4, 3.0e3), (205.9, 2.5e3), (206.4, 2.7e3),
    (206.9, 2.4e3), (207.4, 2.6e3), (207.9, 2.3e3), (208.4, 2.5e3), (208.9, 2.3e3), (209.4, 2.6e3), (209.9, 2.5e3),
    (210.4, 2.8e3), (210.9, 2.7e3), (211.4, 2.5e3), (211.9, 2.4e3), (212.4, 2.6e3), (212.9, 2.4e3), (213.4, 2.7e3),
    (213.9, 2.5e3), (214.4, 2.8e3), (214.9, 2.6e3), (215.4, 2.9e3), (215.9, 2.6e3), (216.4, 2.7e3), (216.9, 2.5e3),
    (217.4, 2.6e3), (217.9, 3.0e3), (218.5, 1.2e4), (219.0, 1.0e4), (219.3, 6.0e3), (219.8, 4.0e3), (220.3, 3.4e3),
    (220.8, 2.8e3), (221.3, 2.5e3), (221.8, 2.3e3), (222.3, 2.4e3), (222.8, 2.2e3), (223.3, 2.4e3), (223.8, 2.6e3),
    (224.3, 2.5e3), (224.8, 2.8e3), (225.3, 3.0e3), (225.8, 5.5e3), (226.3, 4.0e3), (226.8, 3.0e3), (227.3, 2.8e3),
    (227.8, 2.6e3), (228.3, 2.8e3), (228.8, 2.5e3), (229.3, 2.7e3), (229.8, 3.5e3), (230.3, 6.0e3), (230.8, 9.5e3),
    (231.3, 6.5e3), (231.8, 5.5e3), (232.3, 6.0e3), (232.8, 5.0e3), (233.3, 5.5e3), (233.8, 4.5e3), (234.3, 5.0e3),
    (234.8, 4.2e3), (235.3, 3.6e3), (235.8, 3.0e3), (236.3, 2.8e3), (236.8, 4.5e3), (237.3, 9.0e3), (237.8, 1.4e4),
    (238.3, 6.0e3), (238.8, 4.0e3), (239.3, 3.2e3), (239.8, 2.6e3), (240.3, 2.4e3), (240.8, 3.5e3), (241.3, 4.2e3),
    (241.8, 3.0e3), (242.3, 2.5e3), (242.8, 2.2e3), (243.3, 2.4e3), (243.8, 3.5e3), (244.3, 4.5e3), (244.8, 3.8e3),
    (245.3, 5.0e3), (245.8, 6.5e3), (246.3, 9.0e3), (246.8, 1.15e4), (247.3, 1.0e4), (247.8, 1.1e4), (248.3, 1.2e4),
    (248.8, 7.0e3), (249.3, 4.5e3), (249.8, 3.5e3), (250.3, 5.5e3), (250.8, 7.5e3), (251.3, 1.0e4), (251.6, 1.4e4),
    (252.1, 5.2e4), (252.5, 1.3e4), (253.0, 6.0e3), (253.5, 4.5e3), (254.0, 5.5e3), (254.5, 4.0e3), (255.0, 5.0e3),
    (255.5, 4.2e3), (256.0, 4.8e3), (256.5, 4.0e3), (257.0, 4.6e3), (257.5, 3.9e3), (258.0, 4.5e3), (258.5, 4.0e3),
    (259.0, 4.8e3), (259.5, 4.2e3), (260.0, 4.5e3), (260.5, 4.0e3), (261.0, 4.3e3), (261.5, 3.8e3), (262.0, 4.2e3),
    (262.5, 3.6e3), (263.0, 4.0e3), (263.5, 3.5e3), (263.8, 5.5e3),
]

OPERA_OPEN = [
    (-5.7, 2.0e5), (-5.4, 3.3e5), (-5.1, 5.0e4), (-4.8, 4.5e5), (-4.5, 4.0e4), (-4.2, 1.5e5), (-3.9, 6.0e4),
    (-3.5, 2.0e4), (-3.1, 8.0e4), (-2.7, 8.0e3), (-2.3, 4.2e3), (-2.0, 6.0e3), (-1.6, 5.0e3), (-1.3, 9.0e3),
    (-1.0, 6.0e3), (-0.8, 1.0e6), (-0.5, 3.0e4), (-0.2, 1.2e4), (0.3, 4.5e3), (0.7, 1.2e4), (1.1, 2.5e4),
    (1.5, 4.0e5), (1.9, 1.5e5), (2.3, 3.0e5), (2.7, 8.0e4), (3.1, 2.5e5), (3.5, 1.0e5), (3.9, 6.0e5),
    (4.2, 4.0e4), (4.6, 9.0e4), (5.0, 8.0e5), (5.5, 5.6e6), (5.9, 2.5e6), (6.3, 5.0e5), (6.7, 2.2e5),
    (7.1, 8.0e4), (7.5, 2.2e4), (7.9, 4.0e4), (8.3, 1.2e5), (8.7, 2.0e6), (9.1, 4.0e5), (9.5, 2.0e5),
    (9.9, 8.0e4), (10.3, 3.0e5), (10.7, 1.5e5), (11.1, 2.5e5), (11.5, 1.0e5), (11.9, 2.0e5), (12.3, 8.0e4),
    (12.7, 1.5e5), (13.1, 2.0e5), (13.5, 1.0e5), (13.9, 2.5e5), (14.3, 6.0e4), (14.7, 1.5e5), (15.1, 3.0e5),
    (15.5, 1.2e5), (15.9, 2.0e5), (16.3, 7.0e4), (16.7, 1.3e5), (17.0, 6.4e5), (17.3, 2.3e6),
    (48.3, 6.6e4), (48.8, 6.0e4), (49.3, 1.0e5), (49.8, 4.0e4), (50.3, 7.0e4), (50.8, 3.0e4), (51.3, 5.0e4),
    (51.9, 2.4e4), (52.4, 5.5e4), (52.9, 3.5e4), (53.4, 7.0e4), (53.9, 3.0e4), (54.4, 4.5e4), (54.9, 2.5e4),
    (55.4, 4.0e4), (55.9, 2.0e4), (56.4, 3.5e4), (56.9, 1.8e4), (57.4, 3.0e4), (57.9, 2.0e4), (58.4, 2.5e4),
    (58.9, 1.5e4), (59.4, 2.8e4), (59.9, 1.5e4), (60.4, 2.5e4), (60.9, 4.0e4), (61.4, 2.0e4), (61.9, 5.0e4),
    (62.4, 2.5e4), (62.9, 3.5e4), (63.4, 1.8e4), (63.9, 1.0e4), (64.4, 7.0e3), (64.9, 5.0e3), (65.3, 4.8e3),
    (65.8, 8.0e3), (66.3, 1.2e4), (66.8, 2.0e4), (67.3, 1.5e4), (67.8, 3.0e4), (68.3, 1.8e4), (68.8, 2.5e4),
    (69.3, 1.2e4), (69.8, 2.0e4), (70.3, 1.0e4), (70.8, 1.5e4), (71.3, 8.0e3), (71.8, 1.4e4), (72.3, 1.0e4),
    (72.8, 2.0e4), (73.3, 1.2e4), (73.8, 3.0e4), (74.3, 1.5e4), (74.8, 2.2e4), (75.3, 1.0e4), (75.8, 1.6e4),
    (76.3, 8.0e3), (76.8, 1.2e4), (77.3, 7.0e3), (77.8, 6.0e3), (78.3, 9.0e3), (78.8, 7.0e3), (79.3, 1.1e4),
    (79.8, 8.0e3), (80.3, 1.0e4), (80.8, 7.5e3), (81.3, 1.2e4), (81.8, 9.0e3), (82.3, 1.5e4), (82.8, 1.0e4),
    (83.3, 1.8e4), (83.8, 1.2e4), (84.3, 2.0e4), (84.8, 1.5e4), (85.3, 2.4e4), (85.8, 1.3e4), (86.3, 1.8e4),
    (86.8, 1.1e4), (87.3, 1.6e4), (87.8, 2.0e4), (88.3, 2.8e4), (88.8, 2.0e4), (89.3, 2.5e4), (89.8, 1.8e4),
    (90.3, 2.6e4), (90.8, 1.6e4), (91.3, 2.2e4), (91.8, 1.5e4), (92.3, 2.0e4), (92.8, 1.2e4), (93.3, 1.7e4),
    (93.8, 1.0e4), (94.3, 1.5e4), (94.8, 9.0e3), (95.3, 1.3e4), (95.8, 8.0e3), (96.3, 1.2e4), (96.8, 1.0e4),
    (97.3, 1.4e4), (97.8, 1.1e4), (98.3, 1.3e4), (98.8, 9.0e3), (99.3, 1.2e4), (99.8, 1.4e4), (100.3, 1.1e4),
    (100.8, 1.5e4), (101.3, 1.2e4), (101.8, 1.6e4), (102.3, 1.0e4), (102.8, 1.3e4), (103.3, 1.1e4), (103.8, 1.4e4),
    (104.3, 1.2e4), (104.8, 9.0e3), (105.3, 1.1e4), (105.8, 8.0e3), (106.3, 1.0e4), (106.8, 7.5e3), (107.3, 9.0e3),
    (107.8, 7.0e3), (108.3, 8.5e3), (108.8, 6.5e3), (109.3, 8.0e3), (109.8, 5.5e3), (110.3, 5.3e3), (110.8, 7.0e3),
    (111.3, 8.5e3), (111.8, 6.5e3), (112.3, 9.0e3), (112.8, 7.0e3), (113.3, 1.0e4), (113.8, 7.5e3), (114.3, 9.0e3),
    (114.8, 6.5e3), (115.3, 8.0e3), (115.8, 1.0e4), (116.3, 7.0e3), (116.8, 9.0e3), (117.3, 6.5e3), (117.8, 8.5e3),
    (118.3, 7.0e3), (118.8, 9.5e3), (119.3, 7.5e3), (119.8, 8.0e3), (120.3, 7.0e3), (120.8, 9.0e3), (121.3, 7.5e3),
    (121.8, 8.5e3), (122.3, 7.0e3), (122.8, 8.0e3), (123.3, 7.0e3), (123.8, 7.5e3), (124.2, 6.5e3), (124.7, 8.0e3),
    (125.2, 7.5e3), (125.7, 9.0e3), (126.2, 8.0e3), (126.7, 8.5e3), (127.2, 7.5e3), (127.7, 8.0e3), (128.2, 7.0e3),
    (128.7, 7.5e3), (129.2, 8.0e3), (129.7, 7.0e3), (130.2, 7.5e3), (130.7, 6.5e3), (131.2, 7.0e3), (131.7, 8.0e3),
    (132.2, 7.0e3), (132.7, 7.5e3), (133.2, 6.5e3), (133.7, 7.0e3), (134.2, 6.0e3),
    (134.8, 6.5e3), (135.6, 6.0e3), (136.4, 6.8e3), (137.2, 5.8e3), (138.0, 6.5e3), (138.8, 5.5e3), (139.6, 6.2e3),
    (140.4, 5.4e3), (141.2, 6.0e3), (142.0, 5.3e3), (142.8, 5.9e3), (143.6, 5.2e3), (144.4, 5.8e3), (145.2, 5.1e3),
    (146.0, 5.6e3), (146.8, 5.0e3), (147.6, 5.5e3), (148.4, 5.0e3), (149.2, 5.4e3), (150.0, 4.9e3), (150.8, 5.3e3),
    (151.6, 4.8e3), (152.4, 5.2e3), (153.2, 4.7e3), (154.0, 5.1e3), (154.8, 4.8e3), (155.6, 5.2e3), (156.4, 5.5e3),
    (157.2, 6.0e3), (158.0, 6.5e3), (158.8, 7.5e3), (159.6, 6.5e3), (160.4, 8.0e3), (161.0, 1.2e4), (161.5, 2.0e4),
    (162.0, 1.0e4), (162.5, 7.0e3), (163.0, 5.5e3), (163.5, 5.0e3), (164.0, 4.5e3), (164.5, 5.0e3), (165.0, 6.5e3),
    (165.5, 9.0e3), (166.0, 1.2e4), (166.5, 8.0e3), (167.0, 5.5e3), (167.5, 4.5e3), (168.0, 4.2e3), (168.5, 4.0e3),
    (169.0, 4.4e3), (169.5, 4.0e3), (170.0, 4.2e3), (170.5, 3.9e3), (171.0, 4.1e3), (171.5, 3.8e3), (172.0, 3.9e3),
    (172.5, 3.7e3), (173.0, 3.8e3), (173.5, 3.6e3), (174.0, 3.7e3), (174.5, 3.5e3), (175.0, 3.6e3), (175.5, 3.4e3),
    (176.0, 3.5e3), (176.5, 3.4e3), (177.0, 3.6e3), (177.5, 3.4e3), (178.0, 3.3e3), (178.5, 3.5e3), (179.0, 3.4e3),
    (179.5, 5.0e3), (180.0, 3.5e3), (180.5, 3.7e3), (181.0, 4.0e3), (181.5, 3.8e3), (182.0, 4.5e3), (182.5, 5.5e3),
    (183.0, 6.5e3), (183.5, 4.5e3), (184.0, 5.5e3), (184.5, 6.5e3), (185.0, 4.5e3), (185.5, 4.0e3), (186.0, 3.7e3),
    (186.5, 4.2e3), (187.0, 4.0e3), (187.5, 4.8e3), (188.0, 5.5e3), (188.5, 6.5e3), (189.0, 7.0e3), (189.5, 6.0e3),
    (190.0, 5.5e3), (190.5, 6.0e3), (191.0, 5.0e3), (191.5, 4.5e3), (192.0, 4.0e3), (192.5, 3.8e3), (193.0, 3.5e3),
    (193.5, 3.7e3), (194.0, 3.3e3),
    (199.9, 2.5e3), (200.4, 2.2e3), (200.9, 2.0e3), (201.4, 2.3e3), (201.9, 2.1e3), (202.4, 2.4e3), (202.9, 2.0e3),
    (203.4, 2.2e3), (203.9, 1.9e3), (204.4, 2.1e3), (204.9, 2.0e3), (205.4, 2.3e3), (205.9, 2.1e3), (206.4, 1.9e3),
    (206.9, 2.0e3), (207.4, 1.8e3), (207.9, 2.0e3), (208.4, 1.9e3), (208.9, 2.1e3), (209.4, 2.0e3), (209.9, 1.8e3),
    (210.4, 2.0e3), (210.9, 2.2e3), (211.4, 2.0e3), (211.9, 2.1e3), (212.4, 1.9e3), (212.9, 2.0e3), (213.4, 2.2e3),
    (213.9, 2.0e3), (214.4, 2.1e3), (214.9, 1.95e3), (215.4, 2.0e3), (215.9, 2.1e3), (216.4, 2.0e3), (216.9, 2.1e3),
    (217.4, 2.0e3), (217.9, 2.2e3), (218.5, 8.0e3), (218.9, 5.0e3), (219.4, 3.5e3), (219.9, 2.8e3), (220.4, 2.3e3),
    (220.9, 2.1e3), (221.4, 1.9e3), (221.9, 1.8e3), (222.4, 1.9e3), (222.9, 1.8e3), (223.4, 2.0e3), (223.9, 2.1e3),
    (224.4, 2.0e3), (224.9, 2.2e3), (225.4, 2.1e3), (225.9, 2.3e3), (226.4, 2.1e3), (226.9, 2.2e3), (227.4, 2.0e3),
    (227.9, 2.2e3), (228.4, 2.1e3), (228.9, 2.3e3), (229.4, 2.2e3), (229.9, 5.0e3), (230.5, 1.2e4), (230.9, 8.0e3),
    (231.4, 5.0e3), (231.9, 3.5e3), (232.4, 4.0e3), (232.9, 3.0e3), (233.4, 3.5e3), (233.9, 2.8e3), (234.4, 3.0e3),
    (234.9, 2.5e3), (235.4, 2.2e3), (235.9, 2.0e3), (236.4, 2.3e3), (236.9, 1.9e3), (237.4, 2.1e3), (237.9, 1.8e3),
    (238.4, 2.0e3), (238.9, 1.8e3), (239.4, 2.0e3), (239.9, 1.9e3), (240.4, 2.2e3), (240.9, 2.0e3), (241.4, 1.8e3),
    (241.9, 2.2e3), (242.4, 2.0e3), (242.9, 2.4e3), (243.4, 2.2e3), (243.9, 2.6e3), (244.4, 3.0e3), (244.9, 2.5e3),
    (245.4, 3.0e3), (245.9, 3.5e3), (246.4, 4.0e3), (246.9, 3.2e3), (247.4, 2.8e3), (247.9, 3.5e3), (248.4, 3.0e3),
    (248.9, 2.6e3), (249.4, 3.0e3), (249.9, 2.4e3), (250.4, 2.8e3), (250.9, 2.2e3), (251.4, 2.6e3), (251.9, 3.5e3),
    (252.4, 2.8e3), (252.9, 2.5e3), (253.4, 3.4e3), (253.9, 2.4e3), (254.4, 3.2e3), (254.9, 2.3e3), (255.4, 3.0e3),
    (255.9, 2.2e3), (256.4, 2.9e3), (256.9, 2.1e3), (257.4, 2.8e3), (257.9, 2.0e3), (258.4, 2.7e3), (258.9, 2.0e3),
    (259.4, 2.6e3), (259.9, 1.9e3), (260.4, 2.4e3), (260.9, 1.8e3), (261.4, 2.3e3), (261.9, 1.75e3), (262.3, 1.7e3),
    (262.8, 2.0e3), (263.3, 2.6e3), (263.8, 3.0e3),
]

NE_FILLED = [
    (124.3, 1.0e4), (124.7, 1.5e4), (125.1, 1.2e4), (125.5, 2.2e4), (125.9, 2.7e4), (126.3, 1.8e4), (126.7, 2.5e4),
    (127.1, 1.6e4), (127.5, 2.2e4), (127.9, 2.9e4), (128.3, 1.7e4), (128.7, 2.4e4), (129.2, 3.0e4), (129.6, 1.8e4),
    (130.0, 1.2e4), (130.4, 8.0e3), (130.8, 6.0e3), (131.2, 7.0e3), (131.6, 5.5e3), (132.0, 6.5e3), (132.5, 5.5e3),
    (133.0, 1.0e4), (133.5, 2.3e4), (134.0, 1.6e4), (134.4, 1.3e4), (134.8, 1.1e4), (135.2, 1.3e4), (135.6, 9.0e3),
    (136.0, 7.0e3), (136.5, 8.5e3), (137.0, 7.0e3), (137.5, 8.0e3), (138.0, 6.5e3), (138.5, 9.0e3), (139.0, 7.5e3),
    (139.5, 6.5e3), (140.0, 8.0e3), (140.5, 6.0e3), (141.0, 7.5e3), (141.5, 9.5e3), (142.0, 7.0e3), (142.5, 8.5e3),
    (143.0, 6.5e3), (143.5, 8.0e3), (144.2, 1.3e4), (144.7, 8.0e3), (145.2, 7.0e3), (145.7, 9.0e3), (146.2, 7.5e3),
    (146.8, 1.25e4), (147.3, 8.0e3), (147.8, 7.0e3), (148.3, 9.0e3), (148.9, 1.6e4), (149.4, 8.5e3), (149.9, 1.1e4),
    (150.4, 7.0e3), (150.9, 8.0e3), (151.4, 6.5e3), (151.9, 7.5e3), (152.4, 6.5e3), (152.9, 7.0e3), (153.4, 6.0e3),
    (153.9, 7.0e3), (154.4, 6.2e3), (154.9, 7.2e3), (155.4, 6.5e3), (155.9, 7.5e3), (156.4, 7.0e3), (156.9, 8.5e3),
    (157.4, 9.5e3), (157.9, 1.2e4), (158.4, 1.0e4), (158.8, 2.0e4), (159.0, 3.4e4), (159.3, 2.4e4), (159.6, 1.6e4),
    (160.0, 1.3e4), (160.4, 1.7e4), (160.8, 1.1e4), (161.2, 1.4e4), (161.6, 9.0e3), (162.0, 1.2e4), (162.5, 8.0e3),
    (163.0, 1.0e4), (163.5, 7.5e3),
]

NE_OPEN = [
    (124.5, 8.0e3), (124.9, 1.2e4), (125.3, 9.0e3), (125.7, 1.6e4), (126.1, 1.2e4), (126.5, 1.8e4), (126.9, 1.3e4),
    (127.3, 1.9e4), (127.7, 1.4e4), (128.1, 2.0e4), (128.5, 1.5e4), (128.9, 1.7e4), (129.4, 1.2e4), (129.8, 9.0e3),
    (130.2, 7.0e3), (130.6, 5.5e3), (131.0, 5.0e3), (131.4, 4.6e3), (131.8, 5.2e3), (132.2, 4.5e3), (132.6, 5.0e3),
    (133.0, 7.0e3), (133.4, 1.0e4), (133.8, 1.3e4), (134.2, 1.0e4), (134.6, 8.0e3), (135.0, 9.0e3), (135.4, 6.5e3),
    (135.8, 5.0e3), (136.3, 4.5e3), (136.8, 5.5e3), (137.3, 6.5e3), (137.8, 5.0e3), (138.3, 6.0e3), (138.8, 5.2e3),
    (139.3, 6.5e3), (139.8, 5.0e3), (140.4, 4.5e3), (140.9, 5.5e3), (141.4, 6.5e3), (141.9, 5.0e3), (142.4, 6.0e3),
    (142.9, 5.5e3), (143.4, 7.0e3), (143.9, 5.5e3), (144.4, 8.0e3), (144.9, 6.0e3), (145.4, 5.0e3), (145.9, 4.6e3),
    (146.4, 5.5e3), (146.9, 7.5e3), (147.4, 5.5e3), (147.9, 4.6e3), (148.4, 6.0e3), (148.9, 9.0e3), (149.4, 6.5e3),
    (149.9, 7.5e3), (150.4, 6.0e3), (150.9, 5.5e3), (151.4, 6.2e3), (151.9, 5.8e3), (152.4, 6.0e3), (152.9, 5.6e3),
    (153.4, 6.3e3), (153.9, 5.8e3), (154.4, 6.2e3), (154.9, 6.0e3), (155.4, 6.5e3), (155.9, 6.2e3), (156.4, 7.0e3),
    (156.9, 7.5e3), (157.4, 8.0e3), (157.9, 9.0e3), (158.4, 7.0e3), (158.9, 1.0e4), (159.4, 1.3e4), (159.8, 5.2e3),
    (160.3, 9.0e3), (160.8, 1.2e4), (161.3, 8.0e3), (161.8, 1.0e4), (162.3, 7.0e3), (162.8, 8.5e3), (163.3, 6.5e3),
    (163.7, 7.5e3),
]

SITES = ["Site FAR", "Site NEAR", "Site OPERA", "Site NE"]
SITE_COLORS = ["#000000", "#ff0000", "#0000ff", "#00ff00"]
SERIES = [
    ("Site FAR", FAR_FILLED, FAR_OPEN),
    ("Site NEAR", NEAR_FILLED, NEAR_OPEN),
    ("Site OPERA", OPERA_FILLED, OPERA_OPEN),
    ("Site NE", NE_FILLED, NE_OPEN),
]
Y_TICK_VALUES = [1e4, 1e5, 1e6, 1e7]
Y_TICK_LABELS = ["10<sup>4</sup>", "10<sup>5</sup>", "10<sup>6</sup>", "10<sup>7</sup>"]

# ---------------------------------------------------------------------------
# Layout constants (pixels)
# ---------------------------------------------------------------------------
W, H = 2533, 1165
ML, MR, MT, MB = 230, 10, 33, 106
PW, PH = W - ML - MR, H - MT - MB
FONT = "Liberation Sans, Arial, Helvetica, sans-serif"
LIGHT_LINE = "#bcb4ab"
DARK_LINE = "#474747"


def px_x(px):
    return (px - ML) / PW


def px_y(py):
    return (H - MB - py) / PH


def to_xy(pairs):
    days = [p[0] for p in pairs]
    vals = [p[1] for p in pairs]
    x = pd.Timestamp(ORIGIN) + pd.to_timedelta(days, unit="D")
    return x, vals


fig = go.Figure()
color_of = dict(zip(SITES, SITE_COLORS))
for name, filled, opened in SERIES:
    c = color_of[name]
    x, y = to_xy(filled)
    fig.add_trace(go.Scatter(
        x=x, y=y, mode="lines+markers", name=name + " (filled)", showlegend=False,
        line=dict(color=LIGHT_LINE, width=1.8),
        marker=dict(symbol="square", size=8, color=c, line=dict(width=0)),
    ))
    x, y = to_xy(opened)
    fig.add_trace(go.Scatter(
        x=x, y=y, mode="lines+markers", name=name + " (open)", showlegend=False,
        line=dict(color=DARK_LINE, width=1.8),
        marker=dict(symbol="square-open", size=9, color=c, line=dict(width=1.8, color=c)),
    ))

DAY_MS = 86400000
fig.update_xaxes(
    type="date",
    range=["2012-03-17 16:48", "2013-01-10 19:10"],
    automargin=False,
    showline=True, linecolor="black", linewidth=2, mirror=True,
    ticks="inside", ticklen=30, tickwidth=2, tickcolor="black",
    tick0="2012-03-25", dtick=30 * DAY_MS, tickformat="%d/%m/%y",
    tickfont=dict(family=FONT, size=46, color="black", weight="bold"),
    ticklabelstandoff=-19,
    minor=dict(ticks="inside", ticklen=15, tickwidth=2, tickcolor="black", dtick=10 * DAY_MS,
               tick0="2012-03-25", showgrid=False),
    showgrid=False, zeroline=False,
)
fig.update_yaxes(
    type="log", range=[3.012, 7.002],
    automargin=False,
    showline=True, linecolor="black", linewidth=2, mirror=True,
    ticks="inside", ticklen=70, tickwidth=2, tickcolor="black",
    tickmode="array", tickvals=Y_TICK_VALUES, ticktext=Y_TICK_LABELS,
    tickfont=dict(family=FONT, size=44, color="black", weight="bold"),
    ticklabelstandoff=28,
    minor=dict(ticks="inside", ticklen=35, tickwidth=2, tickcolor="black", dtick="D1", showgrid=False),
    showgrid=True, gridcolor="black", gridwidth=2, griddash="2px,6px",
    zeroline=False,
)

shapes = []
annotations = []
# legend shadow + box
shapes.append(dict(type="rect", xref="paper", yref="paper", layer="above",
                   x0=px_x(2108), x1=px_x(2502), y0=px_y(283), y1=px_y(57),
                   fillcolor="black", line=dict(width=0)))
shapes.append(dict(type="rect", xref="paper", yref="paper", layer="above",
                   x0=px_x(2095), x1=px_x(2494), y0=px_y(274), y1=px_y(45),
                   fillcolor="white", line=dict(color="black", width=2)))
row_y = [73, 131, 189, 247]
for name, col, ry in zip(SITES, SITE_COLORS, row_y):
    shapes.append(dict(type="line", xref="paper", yref="paper", layer="above",
                       x0=px_x(2110), x1=px_x(2182), y0=px_y(ry), y1=px_y(ry),
                       line=dict(color=col, width=2)))
    annotations.append(dict(text=name, xref="paper", yref="paper", x=px_x(2196), y=px_y(ry),
                            xanchor="left", yanchor="middle", showarrow=False,
                            font=dict(family=FONT, size=36, color="black", weight="bold")))

annotations.append(dict(text="Median rate (Hz)", xref="paper", yref="paper",
                        x=px_x(50), y=px_y(52), xanchor="center", yanchor="top",
                        textangle=-90, showarrow=False,
                        font=dict(family=FONT, size=53, color="black", weight="bold")))
annotations.append(dict(text="Date", xref="paper", yref="paper",
                        x=1.0, y=px_y(1140), xanchor="right", yanchor="middle",
                        showarrow=False,
                        font=dict(family=FONT, size=45, color="black", weight="bold")))

fig.update_layout(
    width=W, height=H,
    margin=dict(l=ML, r=MR, t=MT, b=MB, pad=0, autoexpand=False),
    paper_bgcolor="white", plot_bgcolor="white",
    showlegend=False,
    shapes=shapes, annotations=annotations,
    font=dict(family=FONT, color="black"),
)

fig.write_html("out.html")
